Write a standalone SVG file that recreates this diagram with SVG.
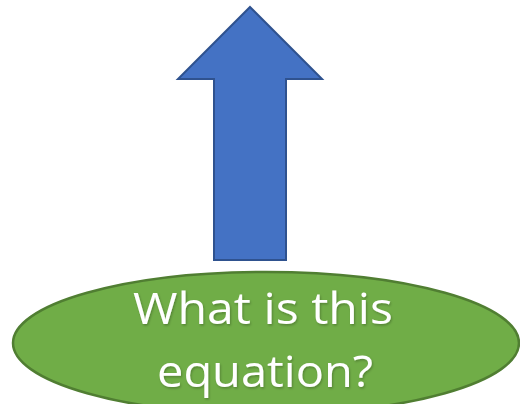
<svg xmlns="http://www.w3.org/2000/svg" width="520" height="404" viewBox="0 0 520 404">
  <defs>
    <filter id="shadow" x="-10%" y="-10%" width="120%" height="130%">
      <feDropShadow dx="1" dy="1.5" stdDeviation="1" flood-color="#000" flood-opacity="0.25"/>
    </filter>
  </defs>
  <style>
    .arrow { fill: #4472C4; stroke: #2F528F; stroke-width: 2; stroke-linejoin: miter; }
    .ell { fill: #70AD47; stroke: #507E32; stroke-width: 2.5; }
    .lbl { font-family: "Open Sans", "Lato", sans-serif; font-size: 43px; fill: #FFFFFF; text-anchor: middle; filter: url(#shadow); }
  </style>
  <rect width="520" height="404" fill="#FFFFFF"/>
  <g id="arrow">
    <polygon class="arrow" points="250,7 322,79 286,79 286,260 214,260 214,79 178,79"/>
  </g>
  <g id="question">
    <ellipse class="ell" cx="266" cy="343" rx="253" ry="71"/>
    <text class="lbl" x="263" y="324" textLength="260" lengthAdjust="spacingAndGlyphs">What is this</text>
    <text class="lbl" x="265" y="387" textLength="216" lengthAdjust="spacingAndGlyphs">equation?</text>
  </g>
</svg>
